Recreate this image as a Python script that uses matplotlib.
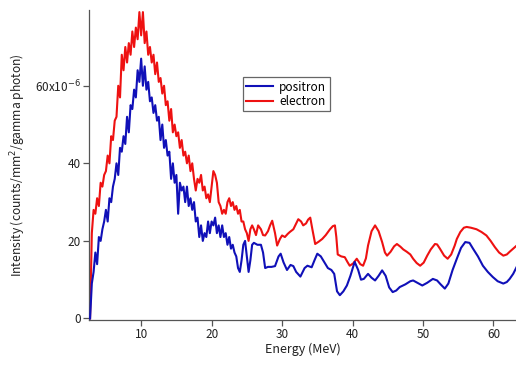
import numpy as np
import matplotlib
matplotlib.use("Agg")
import matplotlib.pyplot as plt

plt.rcParams['font.family'] = ['Noto Sans CJK JP', 'DejaVu Sans']

# Noisy low-energy part: energy grid 2.75 .. 25.75 MeV (0.25 MeV step)
energy_low = np.arange(2.75, 25.76, 0.25)
positron_low = [0, 9, 12, 17, 14, 21, 20, 23, 25, 28, 25, 31, 30, 34, 36, 40, 37, 44, 43, 47,
                45, 52, 48, 55, 54, 59, 57, 64, 61, 67, 60, 65, 59, 61, 56, 57, 53, 55, 51, 52,
                46, 50, 44, 46, 42, 43, 36, 40, 35, 37, 27, 35, 33, 34, 30, 34, 29, 31, 28, 30,
                25, 26, 21, 24, 20, 22, 21, 25, 22, 25, 24, 26, 22, 24, 21, 24, 21, 22, 19, 21,
                18, 19, 17, 16, 13, 12, 15, 19, 20, 16, 12, 15, 19]
electron_low = [0, 22, 28, 27, 31, 29, 35, 34, 37, 38, 42, 40, 47, 46, 51, 52, 60, 57, 68, 64,
                70, 66, 71, 68, 74, 70, 75, 72, 79, 73, 79, 71, 74, 68, 70, 66, 68, 63, 66, 61,
                62, 58, 60, 55, 56, 51, 54, 48, 50, 47, 48, 44, 46, 42, 43, 40, 42, 38, 40, 36,
                33, 36, 35, 37, 33, 34, 31, 32, 30, 34, 38, 37, 35, 30, 29, 27, 28, 27, 30, 31,
                29, 30, 28, 29, 27, 28, 25, 25, 23, 22, 20, 23, 24]

# Smooth high-energy part
energy_pos_high = [26.0, 26.5, 27.0, 27.3, 27.6, 28.0, 28.5, 29.0, 29.5, 29.8, 30.2, 30.7, 31.2,
                   31.6, 32.0, 32.6, 33.2, 33.6, 34.2, 34.6, 35.0, 35.5, 36.0, 36.5, 37.0, 37.4,
                   37.8, 38.2, 38.7, 39.2, 39.7, 40.3, 40.8, 41.2, 41.6, 42.2, 42.7, 43.2, 43.7,
                   44.2, 44.7, 45.2, 45.7, 46.2, 46.7, 47.5, 48.2, 48.6, 49.2, 49.9, 50.6, 51.4,
                   52.0, 52.5, 53.1, 53.6, 54.2, 54.8, 55.4, 56.0, 56.6, 57.1, 57.8, 58.5, 59.2,
                   59.9, 60.6, 61.4, 61.9, 62.3, 62.8, 63.3]
positron_high = [19.5, 19, 19, 17, 13, 13.3, 13.3, 13.5, 16, 16.7, 14.5, 12.5, 13.8,
                 13.5, 12, 10.8, 13, 13.6, 13.2, 15, 16.7, 16, 14.5, 13, 12.5, 11.5,
                 7, 6, 7, 8.5, 11, 14.6, 12.5, 10, 10.2, 11.5, 10.5, 9.8, 11,
                 12.4, 11, 8, 6.8, 7.2, 8.1, 8.8, 9.6, 9.8, 9.2, 8.5, 9.2, 10.2,
                 9.8, 8.8, 7.7, 9, 12.5, 15.4, 18.2, 19.7, 19.5, 18, 16, 13.6, 12,
                 10.7, 9.6, 9, 9.4, 10.2, 11.5, 13.3]

energy_ele_high = [26.0, 26.3, 26.6, 27.0, 27.3, 27.6, 28.0, 28.3, 28.6, 29.0, 29.3, 29.7, 30.0,
                   30.4, 30.8, 31.1, 31.6, 32.0, 32.3, 32.7, 33.0, 33.4, 33.7, 34.0, 34.3, 34.7,
                   35.2, 35.7, 36.2, 36.8, 37.2, 37.5, 37.7, 37.9, 38.4, 38.9, 39.3, 39.6, 40.1,
                   40.6, 41.1, 41.5, 41.9, 42.2, 42.7, 43.2, 43.7, 44.2, 44.6, 44.9, 45.4, 45.9,
                   46.3, 46.8, 47.2, 47.7, 48.2, 48.6, 49.1, 49.6, 50.1, 50.6, 51.1, 51.7, 52.0,
                   52.4, 53.0, 53.5, 54.0, 54.5, 54.8, 55.3, 55.8, 56.2, 56.8, 57.6, 58.3, 59.0,
                   59.6, 60.2, 60.8, 61.4, 61.9, 62.3, 62.8, 63.3]
electron_high = [23, 21.5, 24, 23, 21.5, 21.4, 22.5, 24, 25.2, 22, 18.8, 20.5, 21.4,
                 21, 21.8, 22.3, 23, 24.5, 25.6, 25, 24, 24.5, 25.5, 26, 23, 19.2,
                 19.8, 20.5, 21.5, 23, 23.8, 24, 21, 16.5, 16, 15.8, 14.5, 13.6, 14.2,
                 15.4, 14, 13.6, 15.5, 18.8, 22.5, 24, 22.5, 19.7, 17, 16.2, 17.2, 18.6,
                 19.2, 18.5, 17.8, 17.2, 16.5, 15.4, 14.3, 13.6, 14.4, 16.2, 17.8, 19.2, 19.1,
                 18, 16.2, 15.4, 16.5, 18.8, 20.5, 22.3, 23.4, 23.6, 23.4, 23, 22.3, 21.4,
                 20, 18.4, 17, 16.2, 16.5, 17.2, 18, 18.8]

x_ticks = [10, 20, 30, 40, 50, 60]
y_ticks = [0, 20, 40, 60]
y_tick_labels = ['0', '20', '40', '60x10$^{-6}$']

e_pos = np.concatenate([energy_low, energy_pos_high])
v_pos = np.concatenate([positron_low, positron_high])
e_ele = np.concatenate([energy_low, energy_ele_high])
v_ele = np.concatenate([electron_low, electron_high])

fig = plt.figure(figsize=(5.16, 3.68), dpi=100)
ax = fig.add_axes([0.1725, 0.1304, 0.8275, 0.842])

ax.plot(e_ele, v_ele, color='#ee1111', lw=1.5, label='electron', zorder=2)
ax.plot(e_pos, v_pos, color='#1010b8', lw=1.5, label='positron', zorder=3)

ax.set_xlim(2.6, 63.2)
ax.set_ylim(-0.4, 79.5)
ax.set_xticks(x_ticks)
ax.set_yticks(y_ticks)
ax.set_yticklabels(y_tick_labels)

for s in ['top', 'right']:
    ax.spines[s].set_visible(False)
for s in ['left', 'bottom']:
    ax.spines[s].set_color('#555555')
    ax.spines[s].set_linewidth(0.9)
ax.tick_params(axis='both', direction='out', length=4, width=0.9, color='#555555',
               labelsize=8.5, labelcolor='#222222', pad=2)

ax.set_xlabel('Energy (MeV)', fontsize=9, color='#222222', labelpad=1)
ax.set_ylabel('Intensity (counts/mm$^2$/gamma photon)', fontsize=8.7, color='#222222', labelpad=5)

handles, labels = ax.get_legend_handles_labels()
leg = ax.legend(handles[::-1], labels[::-1], loc='upper left', bbox_to_anchor=(0.36, 0.784),
                borderaxespad=0, fontsize=8.5, handlelength=2.3, handletextpad=0.5,
                labelspacing=0.1, borderpad=0.3, fancybox=False, framealpha=1,
                edgecolor='#666666')
leg.get_frame().set_linewidth(0.9)

fig.savefig('out.png', dpi=100)
